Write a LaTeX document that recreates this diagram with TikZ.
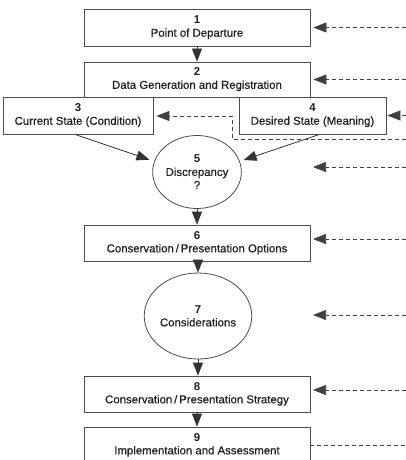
\documentclass[tikz,border=0pt]{standalone}
\usepackage{fontspec}
\setmainfont{Liberation Sans}
\newfontface\labelfont{Liberation Sans}[FakeBold=0.5]
\usetikzlibrary{arrows.meta,shapes.geometric,calc}
\begin{document}
\begin{tikzpicture}[x=1pt,y=-1pt,
  every node/.style={font=\fontsize{11.4}{13}\selectfont, text=black!88, align=center, inner sep=0pt},
  num/.style={},
  box/.style={draw=black!70, line width=0.8pt, rectangle, fill=white},
  rnd/.style={draw=black!70, line width=0.8pt, ellipse, fill=white},
  arr/.style={draw=black!80, line width=0.8pt, -{Triangle[length=13pt,width=10pt]}},
  darr/.style={draw=black!75, line width=0.6pt, dash pattern=on 4pt off 3pt, -{Triangle[length=13pt,width=10pt]}},
  dline/.style={draw=black!75, line width=0.6pt, dash pattern=on 4pt off 3pt}]
\useasboundingbox (0,0) rectangle (406,460);
\clip (0,0) rectangle (406,460);
% nodes
\node[box, minimum width=226pt, minimum height=37pt] (n1) at (197,27.5) {\textbf{1}\\\labelfont Point of Departure};
\node[box, minimum width=226pt, minimum height=35pt] (n2) at (197,79.5) {\textbf{2}\\\labelfont Data Generation and Registration};
\node[box, minimum width=150pt, minimum height=37pt] (n3) at (78,115.5) {\textbf{3}\\\labelfont Current State (Condition)};
\node[box, minimum width=147pt, minimum height=37pt] (n4) at (312.5,115.5) {\textbf{4}\\\labelfont Desired State (Meaning)};
\node[rnd, minimum width=86pt, minimum height=73pt] (n5) at (197,172) {\textbf{5}\\\labelfont Discrepancy\\\labelfont ?};
\node[box, minimum width=226pt, minimum height=36pt] (n6) at (197,243) {\textbf{6}\\\labelfont Conservation\,/\,Presentation Options};
\node[rnd, minimum width=86pt, minimum height=86pt] (n7) at (198,316) {\textbf{7}\\\labelfont Considerations};
\node[box, minimum width=226pt, minimum height=36pt] (n8) at (197,394) {\textbf{8}\\\labelfont Conservation\,/\,Presentation Strategy};
\node[box, minimum width=226pt, minimum height=36pt] (n9) at (197,445) {\textbf{9}\\\labelfont Implementation and Assessment};
% main flow
\draw[arr] (n1.south) -- (n2.north);
\draw[arr, shorten >=5pt] ([xshift=-3pt]n3.south) -- (n5.166);
\draw[arr, shorten >=4pt] ([xshift=7pt]n4.south) -- (n5.14);
\draw[arr] (n5.south) -- (n6.north);
\draw[arr] (n6.south -| n7.south) -- (n7.north);
\draw[arr] (n7.south) -- (n8.north -| n7.south);
\draw[arr] (n8.south) -- (n9.north);
% right-hand side inputs
\coordinate (R) at (406,0);
\coordinate (a5) at (313,167);
\coordinate (a6) at (313,239);
\coordinate (a7) at (313,315);
\coordinate (a8) at (313,390);
\coordinate (c3a) at (406,139);
\coordinate (c3b) at (232,116);
\draw[darr, shorten >=3pt] (R |- n1.east) -- (n1.east);
\draw[darr, shorten >=3pt] (R |- n2.east) -- (n2.east);
\draw[darr, shorten >=1pt] (R |- n4.east) -- (n4.east);
\draw[darr, shorten >=3pt] (c3a) -| (c3b) -- (n3.east |- c3b);
\draw[darr] (R |- a5) -- (a5);
\draw[darr] (R |- a6) -- (a6);
\draw[darr] (R |- a7) -- (a7);
\draw[darr] (R |- a8) -- (a8);
\draw[dline] (n9.east) -- (R |- n9.east);
\end{tikzpicture}
\end{document}
